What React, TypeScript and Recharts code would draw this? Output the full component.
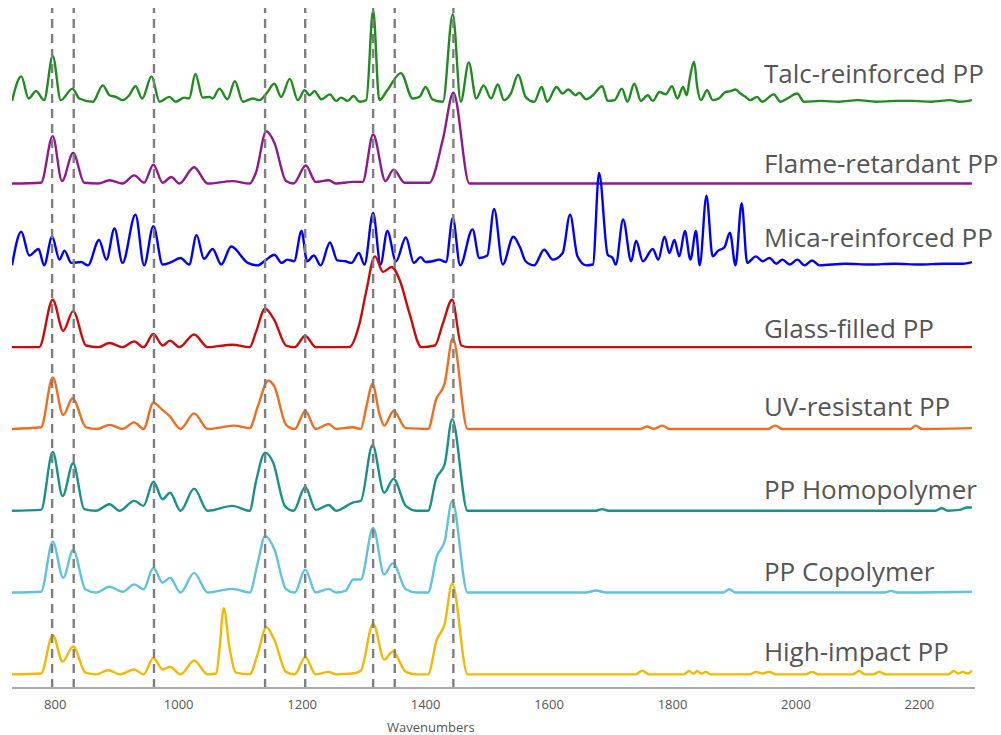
import { LineChart, Line, XAxis, YAxis, ReferenceLine, ReferenceDot } from "recharts";

// [wavenumber, intensity above that trace's baseline]
const talc: [number, number][] = [
  [730, 0.01], [745, 0.31], [757, 0.04], [769, 0.13], [782, 0.02], [796, 0.56], [809, 0.02], [828, 0.16], [839, 0.04],
  [861, 0], [877, 0.2], [888, 0.08], [898, 0.06], [909, 0.02], [920, 0.08], [930, 0.19], [941, 0.04], [956, 0.31],
  [969, 0], [985, 0.06], [995, 0], [1009, 0.05], [1017, 0.04], [1027, 0.34], [1039, 0.05], [1050, 0.06], [1055, 0.04],
  [1066, 0.16], [1079, 0.03], [1091, 0.25], [1104, 0], [1120, 0.04], [1131, 0.02], [1142, 0.1], [1155, 0.22],
  [1166, 0.06], [1180, 0.28], [1193, 0.02], [1204, 0.14], [1212, 0.08], [1220, 0.13], [1231, 0.03], [1245, 0.09],
  [1255, 0.01], [1263, 0.05], [1274, 0.01], [1283, 0.07], [1293, 0], [1304, 0.02], [1315, 1.12], [1325, 0.02],
  [1338, 0.14], [1360, 0.35], [1379, 0.04], [1390, 0.06], [1400, 0.18], [1411, 0.03], [1428, 0], [1444, 1.07],
  [1457, 0], [1470, 0.48], [1482, 0.04], [1494, 0.2], [1506, 0.04], [1517, 0.21], [1527, 0.02], [1538, 0.1],
  [1550, 0.33], [1562, 0.06], [1576, 0], [1588, 0.18], [1597, 0], [1612, 0.18], [1622, 0.1], [1631, 0.15],
  [1643, 0.08], [1649, 0.11], [1660, 0.03], [1671, 0.08], [1686, 0.19], [1695, 0.01], [1706, 0.02], [1718, 0.16],
  [1727, 0], [1738, 0.22], [1749, 0.01], [1760, 0.08], [1768, 0.01], [1779, 0.12], [1789, 0.09], [1799, 0.19],
  [1808, 0.04], [1817, 0.18], [1823, 0.08], [1828, 0.29], [1835, 0.49], [1840, 0.18], [1846, 0.02], [1856, 0.14],
  [1865, 0.02], [1875, 0.04], [1886, 0.12], [1894, 0.13], [1902, 0.15], [1910, 0.1], [1918, 0.06], [1926, 0.02],
  [1937, 0.06], [1945, 0], [1964, 0.09], [1975, 0], [1986, 0.04], [2002, 0.1], [2013, 0], [2040, 0.01], [2070, 0],
  [2100, 0.02], [2130, 0], [2160, 0.01], [2190, 0.01], [2220, 0], [2250, 0.02], [2265, 0], [2285, 0.02],
];

const flame: [number, number][] = [
  [730, 0], [777, 0.01], [796, 0.58], [811, 0.03], [829, 0.375], [847, 0.01], [870, 0], [888, 0.04], [909, 0],
  [928, 0.1], [944, 0.01], [959, 0.23], [974, 0.01], [988, 0.08], [1001, 0], [1025, 0.2], [1047, 0], [1087, 0.03],
  [1115, 0], [1125, 0.13], [1142, 0.64], [1155, 0.5], [1174, 0.03], [1186, 0], [1206, 0.22], [1222, 0.02],
  [1243, 0.04], [1255, 0], [1282, 0.02], [1298, 0.02], [1315, 0.6], [1335, 0.03], [1348, 0.17], [1366, 0.01],
  [1406, 0.01], [1428, 0.54], [1445, 1.11], [1471, 0], [2285, 0],
];

const mica: [number, number][] = [
  [730, 0], [745, 0.41], [758, 0.12], [773, 0.2], [782, 0], [795, 0.35], [807, 0.07], [815, 0.18], [826, 0.03],
  [842, 0.04], [853, 0], [871, 0.31], [883, 0.07], [896, 0.45], [909, 0.03], [930, 0.62], [944, 0], [959, 0.48],
  [974, 0.01], [988, 0.04], [1003, 0.09], [1017, 0.01], [1029, 0.37], [1041, 0.08], [1055, 0.2], [1069, 0.01],
  [1085, 0.23], [1112, 0.03], [1128, 0], [1142, 0.07], [1155, 0.13], [1167, 0.03], [1176, 0.07], [1187, 0.05],
  [1199, 0.42], [1208, 0.05], [1219, 0.12], [1230, 0], [1245, 0.28], [1257, 0.06], [1270, 0.05], [1280, 0.03],
  [1292, 0.15], [1301, 0.01], [1315, 0.64], [1327, 0.01], [1338, 0.42], [1352, 0.05], [1368, 0.34], [1381, 0.03],
  [1392, 0.1], [1400, 0.04], [1411, 0.05], [1422, 0.07], [1433, 0.04], [1444, 0.58], [1456, 0], [1476, 0.44],
  [1487, 0.09], [1500, 0.12], [1511, 0.69], [1525, 0.01], [1542, 0.35], [1553, 0.22], [1562, 0.05], [1576, 0],
  [1592, 0.19], [1606, 0.07], [1622, 0.15], [1634, 0.62], [1646, 0.11], [1660, 0], [1671, 0.01], [1681, 1.13],
  [1695, 0.13], [1703, 0.09], [1708, 0.01], [1720, 0.56], [1733, 0.05], [1741, 0.3], [1752, 0.05], [1768, 0.2],
  [1777, 0.07], [1787, 0.35], [1795, 0.15], [1803, 0.31], [1811, 0.11], [1820, 0.42], [1829, 0.07], [1838, 0.42],
  [1844, 0], [1855, 0.85], [1865, 0.11], [1874, 0.18], [1884, 0.22], [1893, 0.4], [1902, 0], [1912, 0.76],
  [1921, 0.03], [1935, 0.11], [1946, 0.05], [1957, 0.09], [1968, 0.02], [1978, 0.07], [1990, 0.01], [2002, 0.07],
  [2014, 0], [2026, 0.06], [2038, 0], [2080, 0.02], [2120, 0.01], [2160, 0.02], [2200, 0.01], [2240, 0.02],
  [2270, 0.02], [2285, 0.04],
];

const glass: [number, number][] = [
  [730, 0], [774, 0], [796, 0.58], [813, 0.2], [829, 0.44], [850, 0.02], [870, 0], [888, 0.05], [909, 0],
  [928, 0.07], [943, 0], [959, 0.16], [974, 0.02], [986, 0.08], [1001, 0], [1025, 0.155], [1047, 0], [1087, 0.03],
  [1115, 0], [1125, 0.18], [1140, 0.47], [1155, 0.33], [1174, 0.02], [1188, 0], [1205, 0.14], [1222, 0], [1276, 0],
  [1293, 0.29], [1304, 0.69], [1318, 1.11], [1331, 0.92], [1345, 0.98], [1358, 0.82], [1374, 0.41], [1393, 0],
  [1415, 0.02], [1428, 0.29], [1443, 0.58], [1458, 0.02], [1470, 0], [2285, 0],
];

const uv: [number, number][] = [
  [730, 0], [777, 0.02], [796, 0.63], [813, 0.17], [828, 0.375], [850, 0.02], [868, 0], [888, 0.05], [909, 0],
  [928, 0.08], [943, 0], [959, 0.32], [974, 0.23], [985, 0.16], [1003, 0], [1025, 0.19], [1047, 0], [1090, 0.04],
  [1115, 0.01], [1128, 0.27], [1145, 0.59], [1155, 0.52], [1174, 0.05], [1188, 0], [1205, 0.22], [1222, 0],
  [1243, 0.06], [1255, 0], [1282, 0.02], [1295, 0], [1304, 0.27], [1314, 0.55], [1325, 0.19], [1333, 0.04],
  [1348, 0.22], [1368, 0.01], [1404, 0], [1417, 0.36], [1431, 0.56], [1444, 1.11], [1468, 0], [1748, 0],
  [1759, 0.03], [1770, 0], [1783, 0.04], [1795, 0], [1955, 0], [1966, 0.04], [1978, 0], [2185, 0], [2194, 0.04],
  [2204, 0], [2285, 0.01],
];

const homo: [number, number][] = [
  [730, 0], [777, 0.01], [796, 0.72], [812, 0.18], [829, 0.58], [847, 0.02], [866, 0], [888, 0.08], [904, 0],
  [928, 0.12], [943, 0.06], [959, 0.355], [974, 0.14], [986, 0.22], [1003, 0], [1025, 0.27], [1047, 0], [1087, 0.06],
  [1115, 0], [1125, 0.35], [1140, 0.71], [1153, 0.59], [1172, 0.06], [1186, 0], [1205, 0.29], [1222, 0.01],
  [1243, 0.07], [1255, 0], [1282, 0.1], [1295, 0.12], [1314, 0.8], [1333, 0.22], [1348, 0.39], [1368, 0.06],
  [1386, 0], [1404, 0], [1417, 0.39], [1431, 0.57], [1443, 1.12], [1468, 0], [1676, 0], [1686, 0.02], [1696, 0],
  [2226, 0], [2236, 0.03], [2246, 0], [2265, 0.01], [2277, 0.04], [2285, 0.04],
];

const copo: [number, number][] = [
  [730, 0], [777, 0.01], [796, 0.62], [813, 0.18], [829, 0.52], [849, 0.04], [866, 0], [888, 0.07], [909, 0.01],
  [928, 0.1], [943, 0.04], [959, 0.3], [974, 0.12], [986, 0.18], [1003, 0], [1025, 0.24], [1047, 0], [1087, 0.045],
  [1115, 0], [1128, 0.36], [1140, 0.69], [1155, 0.53], [1174, 0.04], [1188, 0], [1205, 0.28], [1222, 0],
  [1243, 0.045], [1255, 0], [1270, 0.02], [1283, 0.16], [1295, 0.16], [1315, 0.79], [1333, 0.22], [1347, 0.36],
  [1368, 0.04], [1386, 0], [1404, 0], [1418, 0.44], [1431, 0.63], [1443, 1.12], [1468, 0], [1660, 0],
  [1676, 0.025], [1692, 0], [1882, 0], [1892, 0.04], [1902, 0], [2144, 0], [2154, 0.02], [2164, 0], [2285, 0.01],
];

const high: [number, number][] = [
  [730, 0], [777, 0.01], [796, 0.48], [812, 0.155], [829, 0.34], [849, 0.02], [866, 0], [886, 0.05], [905, 0],
  [928, 0.06], [943, 0], [959, 0.2], [974, 0.06], [986, 0.09], [1003, 0], [1025, 0.17], [1047, 0], [1061, 0.01],
  [1066, 0.3], [1073, 0.81], [1082, 0.34], [1093, 0.02], [1115, 0], [1128, 0.25], [1142, 0.575], [1155, 0.42],
  [1174, 0.03], [1188, 0], [1205, 0.21], [1222, 0], [1243, 0.03], [1255, 0], [1282, 0.01], [1295, 0.045],
  [1315, 0.62], [1333, 0.18], [1347, 0.28], [1368, 0.03], [1386, 0], [1404, 0], [1418, 0.42], [1431, 0.62],
  [1443, 1.11], [1468, 0], [1740, 0], [1751, 0.045], [1762, 0], [1818, 0], [1827, 0.04], [1834, 0.01],
  [1840, 0.04], [1847, 0.01], [1854, 0.03], [1862, 0], [1926, 0], [1935, 0.03], [1945, 0.01], [1957, 0.03],
  [1967, 0], [2016, 0], [2026, 0.03], [2036, 0], [2092, 0], [2102, 0.04], [2112, 0], [2125, 0], [2135, 0.03],
  [2145, 0], [2246, 0], [2256, 0.04], [2263, 0.01], [2270, 0.03], [2278, 0.01], [2285, 0.045],
];

const seriesNames = [
  "Talc-reinforced PP",
  "Flame-retardant PP",
  "Mica-reinforced PP",
  "Glass-filled PP",
  "UV-resistant PP",
  "PP Homopolymer",
  "PP Copolymer",
  "High-impact PP",
];
const seriesData = [talc, flame, mica, glass, uv, homo, copo, high];

const markerLines = [795, 830, 960, 1140, 1205, 1315, 1350, 1445];
const xTicks = [800, 1000, 1200, 1400, 1600, 1800, 2000, 2200];

// styling / layout
const colors = ["#1f8c1f", "#8e1a8e", "#0000ff", "#cc0a0a", "#f26c1e", "#17928a", "#5ec3de", "#f5b800"];
const labelLift = [0.34, 0.245, 0.34, 0.23, 0.27, 0.26, 0.26, 0.28];
const font = "'Segoe UI', 'Open Sans', sans-serif";
const LABEL_X = 1948;

export default function App() {
  const n = seriesNames.length;
  const traces = seriesNames.map((name, i) => {
    const base = n - 1 - i;
    return {
      name,
      base,
      color: colors[i],
      data: seriesData[i].map(([x, y]) => ({ x, y: y + base })),
    };
  });

  return (
    <div style={{ position: "absolute", left: 0, top: 0, width: 1001, height: 735, background: "#fff" }}>
      <LineChart width={1001} height={735} margin={{ top: 8, right: 26, bottom: 0, left: 12 }}>
        <XAxis
          dataKey="x"
          type="number"
          domain={[730, 2290]}
          ticks={xTicks}
          allowDataOverflow
          tickLine={false}
          tickMargin={6}
          height={47}
          axisLine={{ stroke: "#aaaaaa", strokeWidth: 2 }}
          tick={{ fill: "#555", fontSize: 13, fontFamily: font }}
          label={{
            content: (p: any) => (
              <text
                x={p.viewBox.x + p.viewBox.width * 0.435}
                y={p.viewBox.y + 44}
                textAnchor="middle"
                fill="#555"
                fontSize={13}
                fontFamily={font}
              >
                Wavenumbers
              </text>
            ),
          }}
        />
        <YAxis hide type="number" domain={[-0.167, 8.146]} allowDataOverflow />
        {traces.map((t) => (
          <Line
            key={t.name}
            data={t.data}
            dataKey="y"
            type="monotone"
            stroke={t.color}
            strokeWidth={2.4}
            dot={false}
            activeDot={false}
            isAnimationActive={false}
          />
        ))}
        {markerLines.map((x) => (
          <ReferenceLine key={x} x={x} stroke="#7f7f7f" strokeWidth={2.4} strokeDasharray="9 6" />
        ))}
        {traces.map((t, i) => (
          <ReferenceDot
            key={t.name + "-label"}
            x={LABEL_X}
            y={t.base + labelLift[i]}
            r={0}
            fill="none"
            stroke="none"
            label={{ value: t.name, position: "right", offset: 0, fill: "#555", fontSize: 26, fontFamily: font }}
          />
        ))}
      </LineChart>
    </div>
  );
}
